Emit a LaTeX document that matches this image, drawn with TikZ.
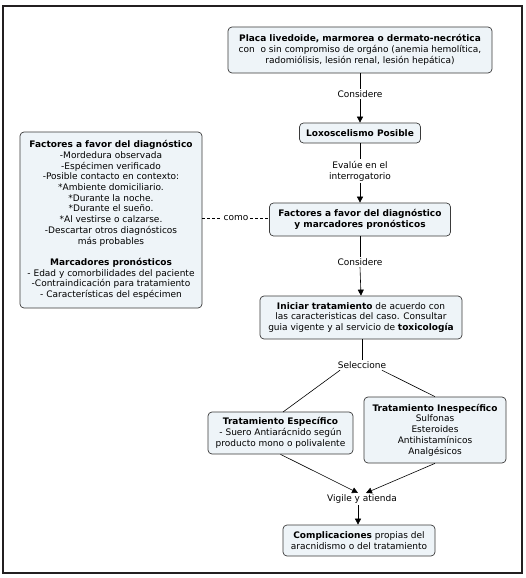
\documentclass[tikz,border=0pt]{standalone}
\usepackage{fontspec}
\setmainfont{DejaVu Sans}
\usetikzlibrary{arrows.meta}
\definecolor{boxfill}{HTML}{EEF4F8}
\definecolor{boxline}{HTML}{3A3A3A}
\definecolor{framecol}{HTML}{231F20}
\begin{document}
\begin{tikzpicture}[x=1pt,y=-1pt,
  every node/.style={font=\fontsize{9}{10.7}\selectfont, align=center, inner sep=0pt},
  concept/.style={draw=boxline, fill=boxfill, rounded corners=4pt, line width=0.7pt},
  linkage/.style={fill=white, inner sep=1.5pt},
  conn/.style={draw=black, line width=0.6pt},
  arr/.style={conn, -{Triangle[length=6pt,width=6pt]}},
  dashedconn/.style={draw=black, line width=0.6pt, dashed, dash pattern=on 3pt off 2pt}
]
\useasboundingbox (0,0) rectangle (526,578);
\draw[framecol, line width=1.6pt] (3,6) rectangle (522,573);

% concepts
\node[concept, minimum width=264pt, minimum height=46pt] (top) at (360,50)
  {\textbf{Placa livedoide, marmorea o dermato-necrótica}\\con\ \ o sin compromiso de orgáno (anemia hemolítica,\\radomiólisis, lesión renal, lesión hepática)};
\node[concept, minimum width=121pt, minimum height=20pt] (loxo) at (360,133)
  {\textbf{Loxoscelismo Posible}};
\node[concept, minimum width=181pt, minimum height=33pt] (fact) at (360,219.5)
  {\textbf{Factores a favor del diagnóstico}\\\textbf{y marcadores pronósticos}};
\node[concept, minimum width=182pt, minimum height=176pt] (left) at (111,220)
  {\textbf{Factores a favor del diagnóstico}\\
   -Mordedura observada\\
   -Espécimen verificado\\
   -Posible contacto en contexto:\\
   *Ambiente domiciliario.\\
   *Durante la noche.\\
   *Durante el sueño.\\
   *Al vestirse o calzarse.\\
   -Descartar otros diagnósticos\\
   más probables\\[10.7pt]
   \textbf{Marcadores pronósticos}\\
   - Edad y comorbilidades del paciente\\
   -Contraindicación para tratamiento\\
   - Características del espécimen};
\node[concept, minimum width=202pt, minimum height=43pt] (inic) at (361,317.5)
  {\textbf{Iniciar tratamiento} de acuerdo con\\las caracteristicas del caso. Consultar\\guia vigente y al servicio de \textbf{toxicología}};
\node[concept, minimum width=145pt, minimum height=42pt] (esp) at (280.5,433)
  {\textbf{Tratamiento Específico}\\- Suero Antiarácnido según\\producto mono o polivalente};
\node[concept, minimum width=142pt, minimum height=66pt] (inesp) at (435,430)
  {\textbf{Tratamiento Inespecífico}\\Sulfonas\\Esteroides\\Antihistamínicos\\Analgésicos};
\node[concept, minimum width=152pt, minimum height=31pt] (comp) at (359,540.5)
  {\textbf{Complicaciones} propias del\\aracnidismo o del tratamiento};

% linking phrases
\node[linkage] (l1) at (360,94) {Considere};
\node[linkage] (l2) at (360,171) {Evalúe en el\\interrogatorio};
\node[linkage] (l3) at (236,218) {como};
\node[linkage] (l4) at (360,262) {Considere};
\node[linkage] (l5) at (362,365) {Seleccione};
\node[linkage] (l6) at (362,499) {Vigile y atienda};

% connectors
\draw[conn] (top.south) -- (l1.north);
\draw[arr] (l1.south) -- (loxo.north);
\draw[conn] (loxo.south) -- (l2.north);
\draw[arr] (l2.south) -- (fact.north);
\draw[dashedconn] (left.east |- l3.west) -- (l3.west);
\draw[dashedconn] (l3.east) -- (fact.west |- l3.east);
\draw[conn] (inic.south -| l5.north) -- (l5.north);
\draw[conn] (fact.south) -- (l4.north);
\draw[arr] (l4.south) -- (inic.north);
\draw[conn] (l5.south west) ++(4,0) coordinate (s1) (s1) -- (283,412) coordinate (e1);
\draw[conn] (l5.south east) ++(-6,0) coordinate (s2) (s2) -- (inesp.north);
\draw[arr] (esp.south) -- ([xshift=-4pt]l6.north);
\draw[arr] (inesp.south) -- ([xshift=4pt]l6.north);
\draw[arr] (l6.south) ++(-4,0) coordinate (v1) (v1) -- (v1 |- comp.north);
\end{tikzpicture}
\end{document}
